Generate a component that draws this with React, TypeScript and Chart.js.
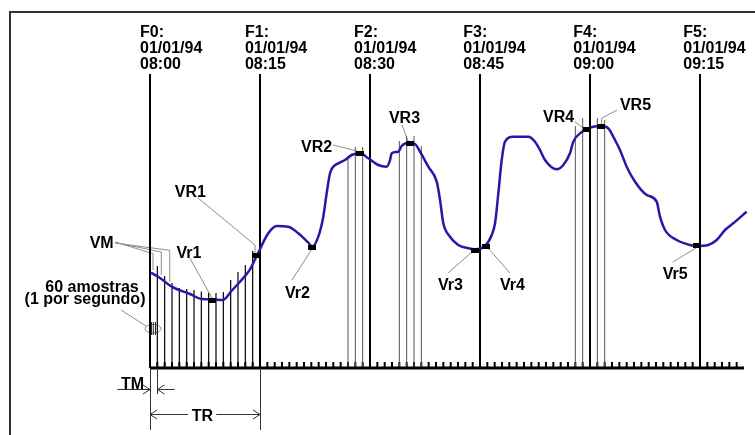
import React, { useEffect, useRef } from "react";
import { Chart, registerables } from "chart.js";

Chart.register(...registerables);

// ---- data (x in minutes after F0, y in signal units above the time axis) ----
const curveMin = [0.14, 1.36, 2.96, 5.45, 7.05, 8.55, 9.91, 11.14, 12.27, 13.64, 14.55, 16.13, 17.28, 18.86, 20.22, 21.59, 22.13, 22.95, 23.63, 24.09, 24.55, 25.0, 25.68, 26.59, 27.5, 28.64, 29.77, 31.13, 32.28, 32.73, 32.96, 33.86, 34.32, 35.22, 36.14, 36.82, 37.95, 39.1, 39.55, 40.0, 40.91, 42.04, 43.4, 44.32, 45.68, 46.6, 47.05, 47.5, 47.96, 48.41, 49.54, 51.59, 52.5, 53.18, 53.86, 55.46, 56.36, 57.27, 57.72, 58.64, 59.45, 60.45, 61.6, 62.5, 63.41, 64.09, 65.0, 66.14, 67.73, 69.09, 69.55, 70.23, 71.82, 73.64, 74.55, 76.13, 77.27, 78.41, 79.54, 81.36];
const curveVal = [95.3, 90, 81.3, 74, 69, 68.7, 68, 77.3, 86.3, 98.7, 112, 134.7, 142, 141.3, 134.7, 125.3, 121.3, 131.3, 151.3, 174.7, 194.7, 201.3, 204.7, 208, 213, 214.7, 209.7, 203, 201.3, 208, 214.7, 216.3, 222, 225.3, 224, 216.3, 201.3, 186.3, 168, 144.7, 131.3, 123, 119.7, 118.7, 122, 133, 144.7, 174.7, 208, 226.3, 231.3, 231.3, 226.3, 218, 208, 198.7, 203, 214.7, 226.3, 234.7, 238.7, 241.3, 242, 239.7, 228, 218, 201.3, 186.3, 173, 166.3, 151.3, 138, 128, 123, 122, 123, 128, 138, 144.7, 156.3];

// selected values (VR = record values, Vr = minimum values)
const markerMin = [8.52, 14.52, 22.09, 28.64, 35.52, 44.36, 45.82, 59.55, 61.5, 74.63];
const markerVal = [68, 113, 121, 214.5, 225, 118, 122, 239, 241.7, 122.2];

// per-minute samples in the first interval
const sampleMin = [1, 2, 3, 4, 5, 6, 7, 8, 9, 10, 11, 12, 13, 14];
const sampleTop = [102, 92, 85, 80, 79, 78, 76.5, 75, 75, 76, 88, 96, 103, 117];

// sample windows around the VR values
const windowMin = [27, 28, 29, 34, 35, 36, 37, 58, 59, 61, 62];
const windowTop = [212, 221, 221, 227, 232, 232, 222, 242, 250, 250, 248];

// frames F0..F5
const frameMin = [0, 15, 30, 45, 60, 75];
const frameTop = 294;
const frameNames = ["F0:", "F1:", "F2:", "F3:", "F4:", "F5:"];
const frameDates = ["01/01/94", "01/01/94", "01/01/94", "01/01/94", "01/01/94", "01/01/94"];
const frameTimes = ["08:00", "08:15", "08:30", "08:45", "09:00", "09:15"];
const frameLabelMin = [-1.36, 12.95, 27.82, 42.72, 57.72, 72.72];
const frameLabelRows = [331.5, 315.5, 299.5];

// time axis
const axisEndMin = 81;
const tickMinutes = Array.from({ length: 80 }, (_, i) => i + 1);
const tickHeight = 6;

// annotation texts
const labelTexts = ["VR1", "Vr1", "Vr2", "VR2", "VR3", "Vr3", "Vr4", "VR4", "VR5", "Vr5", "VM", "60 amostras", "(1 por segundo)", "TM", "TR"];
const labelMin = [5.5, 5.32, 20.11, 22.73, 34.7, 40.98, 49.43, 55.73, 66.2, 71.63, -6.59, -7.91, -8.86, -2.39, 7.16];
const labelVal = [171.3, 110, 70, 216.5, 245, 78, 78, 246.5, 258, 89, 120.5, 76.5, 64, -20.5, -52.5];

// leader lines (polylines in minute/value)
const leaderLines: number[][][] = [
  [[6.55, 170], [14.32, 123], [14.32, 115]],
  [[5.45, 109.7], [8.45, 70]],
  [[19.36, 88], [22.09, 119]],
  [[24.95, 223], [28.23, 217]],
  [[34.36, 243], [35.18, 227]],
  [[40.64, 95], [44.05, 117]],
  [[49.09, 95], [46.09, 120]],
  [[57.95, 246.3], [59.05, 240]],
  [[63.68, 258], [61.59, 249.7], [61.59, 244]],
  [[71.32, 106], [74.45, 120]],
  [[-3.95, 58], [-0.55, 42]],
  [[-4.77, 126], [0.41, 114.3], [0.41, 98]],
  [[-4.77, 125.5], [1.54, 116], [1.54, 93]],
  [[-4.77, 125], [2.69, 117.7], [2.69, 86]],
];
const ellipseCenter = [0.41, 39.3];
const secondSampleMin = [0.2, 0.45, 0.75];
const secondSampleRange = [33, 46];

// dimension lines TM / TR
const extensionLines: number[][] = [[0, 0, -62], [15, 0, -62], [1, 0, -26]];
const tmArrowVal = -21.3;
const tmArrowLeftStart = -4.46;
const tmArrowRightStart = 3.37;
const trArrowVal = -45.7;
const trGap = [5.18, 9.04];

const FONT = 'bold 16px "Liberation Sans", Arial, Helvetica, sans-serif';

const annotations = {
  id: "diagramAnnotations",
  beforeDatasetsDraw(chart: any) {
    const { ctx } = chart;
    const X = (v: number) => chart.scales.x.getPixelForValue(v);
    const Y = (v: number) => chart.scales.y.getPixelForValue(v);
    ctx.save();
    ctx.strokeStyle = "#8c8c8c";
    ctx.lineWidth = 1;
    for (const pts of leaderLines) {
      ctx.beginPath();
      pts.forEach(([a, b], i) => (i ? ctx.lineTo(X(a), Y(b)) : ctx.moveTo(X(a), Y(b))));
      ctx.stroke();
    }
    ctx.beginPath();
    ctx.ellipse(X(ellipseCenter[0]), Y(ellipseCenter[1]), 8, 4.3, 0, 0, Math.PI * 2);
    ctx.stroke();
    ctx.strokeStyle = "#222";
    for (const m of secondSampleMin) {
      ctx.beginPath();
      ctx.moveTo(X(m), Y(secondSampleRange[0]));
      ctx.lineTo(X(m), Y(secondSampleRange[1]));
      ctx.stroke();
    }
    ctx.restore();
  },
  afterDatasetsDraw(chart: any) {
    const { ctx } = chart;
    const X = (v: number) => chart.scales.x.getPixelForValue(v);
    const Y = (v: number) => chart.scales.y.getPixelForValue(v);
    ctx.save();
    ctx.strokeStyle = "#333";
    ctx.lineWidth = 1;
    for (const [m, a, b] of extensionLines) {
      ctx.beginPath();
      ctx.moveTo(Math.round(X(m)) + 0.5, Y(a));
      ctx.lineTo(Math.round(X(m)) + 0.5, Y(b));
      ctx.stroke();
    }
    const arrowHead = (tx: number, ty: number, dir: number) => {
      ctx.beginPath();
      ctx.moveTo(tx - dir * 7, ty - 4.5);
      ctx.lineTo(tx, ty);
      ctx.lineTo(tx - dir * 7, ty + 4.5);
      ctx.stroke();
    };
    const seg = (a: number, b: number, v: number) => {
      ctx.beginPath();
      ctx.moveTo(X(a), Math.round(Y(v)) + 0.5);
      ctx.lineTo(X(b), Math.round(Y(v)) + 0.5);
      ctx.stroke();
    };
    const tmY = Math.round(Y(tmArrowVal)) + 0.5;
    seg(tmArrowLeftStart, 0, tmArrowVal);
    arrowHead(X(0), tmY, 1);
    seg(tmArrowRightStart, 1, tmArrowVal);
    arrowHead(X(1), tmY, -1);
    const trY = Math.round(Y(trArrowVal)) + 0.5;
    seg(0, trGap[0], trArrowVal);
    seg(trGap[1], 15, trArrowVal);
    arrowHead(X(0), trY, -1);
    arrowHead(X(15), trY, 1);

    ctx.font = FONT;
    ctx.fillStyle = "#000";
    ctx.textBaseline = "alphabetic";
    ctx.textAlign = "center";
    labelTexts.forEach((t, i) => ctx.fillText(t, X(labelMin[i]), Y(labelVal[i])));
    ctx.textAlign = "left";
    frameMin.forEach((_, i) => {
      const lx = X(frameLabelMin[i]);
      ctx.fillText(frameNames[i], lx, Y(frameLabelRows[0]));
      ctx.fillText(frameDates[i], lx, Y(frameLabelRows[1]));
      ctx.fillText(frameTimes[i], lx, Y(frameLabelRows[2]));
    });
    ctx.restore();
  },
};

export default function App() {
  const ref = useRef<HTMLCanvasElement>(null);
  useEffect(() => {
    if (!ref.current) return;
    const mk = document.createElement("canvas");
    mk.width = 8;
    mk.height = 5;
    const mc = mk.getContext("2d")!;
    mc.fillStyle = "#000";
    mc.fillRect(0, 0, 8, 5);

    const barCommon = { grouped: false, borderWidth: 0, inflateAmount: 0, borderSkipped: false as any };
    const chart = new Chart(ref.current, {
      type: "line",
      data: {
        datasets: [
          {
            type: "scatter",
            data: markerMin.map((x, i) => ({ x, y: markerVal[i] })),
            pointStyle: mk as any,
            pointRadius: 4,
            order: 0,
          } as any,
          {
            type: "line",
            data: curveMin.map((x, i) => ({ x, y: curveVal[i] })),
            borderColor: "#2a17a8",
            borderWidth: 2.5,
            pointRadius: 0,
            cubicInterpolationMode: "monotone",
            fill: false,
            order: 1,
          },
          {
            type: "line",
            data: [{ x: 0, y: 0 }, { x: axisEndMin, y: 0 }],
            borderColor: "#000",
            borderWidth: 3,
            pointRadius: 0,
            order: 2,
          },
          {
            type: "bar",
            data: frameMin.map((x) => ({ x, y: [0, frameTop] })),
            backgroundColor: "#000",
            barThickness: 2,
            order: 3,
            ...barCommon,
          } as any,
          {
            type: "bar",
            data: sampleMin.map((x, i) => ({ x, y: [0, sampleTop[i]] })),
            backgroundColor: "#000",
            barThickness: 1.2,
            order: 4,
            ...barCommon,
          } as any,
          {
            type: "bar",
            data: windowMin.map((x, i) => ({ x, y: [0, windowTop[i]] })),
            backgroundColor: "#555",
            barThickness: 1,
            order: 5,
            ...barCommon,
          } as any,
          {
            type: "bar",
            data: tickMinutes.map((x) => ({ x, y: [0, tickHeight] })),
            backgroundColor: "#000",
            barThickness: 2,
            order: 6,
            ...barCommon,
          } as any,
        ],
      },
      options: {
        animation: false,
        responsive: false,
        devicePixelRatio: 1,
        layout: { padding: 0, autoPadding: false } as any,
        plugins: { legend: { display: false }, tooltip: { enabled: false } },
        events: [],
        scales: {
          x: { type: "linear", min: -20.4545, max: 82.5, display: false, offset: false, bounds: "data" } as any,
          y: { type: "linear", min: -67, max: 368, display: false, offset: false, bounds: "data" } as any,
        },
      },
      plugins: [annotations],
    });
    return () => chart.destroy();
  }, []);

  return (
    <div style={{ position: "fixed", left: 0, top: 0, width: 755, height: 435, overflow: "hidden", background: "#fff" }}>
      <canvas ref={ref} width={755} height={435} style={{ position: "absolute", left: 0, top: 0, display: "block" }} />
      <div
        style={{
          position: "absolute",
          left: 9,
          top: 11,
          width: 900,
          height: 600,
          borderLeft: "2px solid #333",
          borderTop: "2px solid #333",
          pointerEvents: "none",
        }}
      />
    </div>
  );
}
